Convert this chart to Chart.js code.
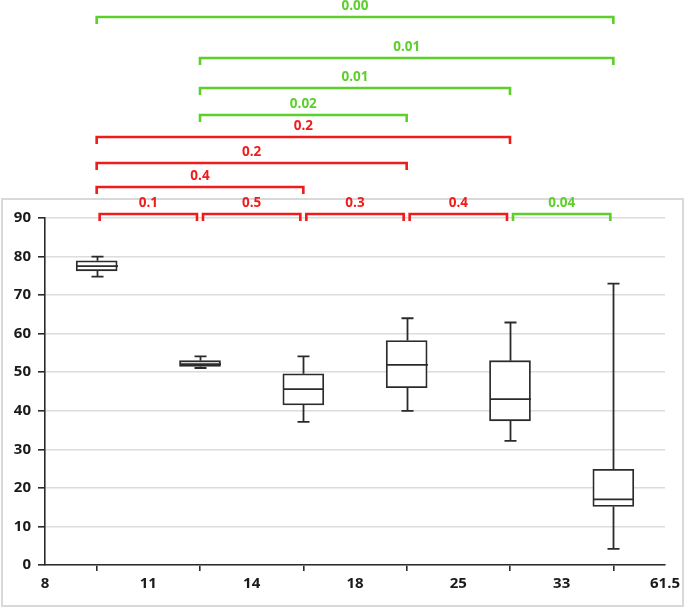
<!DOCTYPE html>
<html>
<head>
<meta charset="utf-8">
<script src="https://cdn.jsdelivr.net/npm/chart.js@4/dist/chart.umd.min.js"></script>
<style>
  html, body { margin: 0; padding: 0; background: #fff; }
  #wrap { width: 685px; height: 609px; position: relative; }
</style>
</head>
<body>
<div id="wrap"><canvas id="boxChart" width="685" height="609"></canvas></div>
<script>
// 分组边界 (x 轴刻度)
const binEdges = ['8', '11', '14', '18', '25', '33', '61.5'];

// 箱线图数据
const whiskerLow = [74.8, 51.1, 37.1, 40.0, 32.2, 4.2];
const q1Values = [76.3, 51.5, 41.5, 46.0, 37.4, 15.2];
const medians = [77.5, 52.1, 45.6, 51.9, 43.0, 17.0];
const q3Values = [78.9, 53.0, 49.6, 58.2, 53.0, 24.8];
const whiskerHigh = [80.0, 54.1, 54.1, 64.0, 62.9, 73.0];

// 两两比较 (p 值)
const pairFrom = [0, 1, 1, 1, 0, 0, 0, 0, 1, 2, 3, 4];
const pairTo = [5, 5, 4, 3, 4, 3, 2, 1, 2, 3, 4, 5];
const pValues = ['0.00', '0.01', '0.01', '0.02', '0.2', '0.2', '0.4', '0.1', '0.5', '0.3', '0.4', '0.04'];
const pairLevel = [0, 1, 2, 3, 4, 5, 6, 7, 7, 7, 7, 7];

const yTicks = [0, 10, 20, 30, 40, 50, 60, 70, 80, 90];

// 布局
const levelY = [17, 58, 88, 115, 137, 163, 187, 214];
const GREEN = '#5ccf2a';
const RED = '#ef1c1c';
const INK = '#2b2b2b';
const FONT = "'Open Sans', 'Liberation Sans', sans-serif";

const boxData = q1Values.map((q1, i) => ({ x: i + 0.5, y: [q1, q3Values[i]] }));

// 中位线、须线、比较括号
const boxExtras = {
    id: 'boxExtras',
    beforeDraw(chart) {
        const ctx = chart.ctx;
        ctx.save();
        ctx.strokeStyle = '#d9d9d9';
        ctx.lineWidth = 2;
        ctx.strokeRect(2, 199, 681, 407);
        ctx.restore();
    },
    afterDatasetsDraw(chart) {
        const ctx = chart.ctx;
        const xs = chart.scales.x;
        const ys = chart.scales.y;
        const half = 20.5;
        const cap = 6;
        ctx.save();
        ctx.strokeStyle = INK;
        ctx.lineWidth = 1.8;
        for (let i = 0; i < medians.length; i++) {
            const cx = Math.round(xs.getPixelForValue(i + 0.5)) + 0.5;
            const yLo = ys.getPixelForValue(whiskerLow[i]);
            const yHi = ys.getPixelForValue(whiskerHigh[i]);
            const yQ1 = ys.getPixelForValue(q1Values[i]);
            const yQ3 = ys.getPixelForValue(q3Values[i]);
            const yMed = ys.getPixelForValue(medians[i]);
            ctx.beginPath();
            ctx.moveTo(cx, yQ3); ctx.lineTo(cx, yHi);
            ctx.moveTo(cx - cap, yHi); ctx.lineTo(cx + cap, yHi);
            ctx.moveTo(cx, yQ1); ctx.lineTo(cx, yLo);
            ctx.moveTo(cx - cap, yLo); ctx.lineTo(cx + cap, yLo);
            ctx.moveTo(cx - half, yMed); ctx.lineTo(cx + half, yMed);
            ctx.stroke();
        }
        ctx.restore();
    },
    afterDraw(chart) {
        const ctx = chart.ctx;
        const xs = chart.scales.x;
        ctx.save();
        ctx.lineWidth = 2.6;
        ctx.font = 'bold 13.5px ' + FONT;
        ctx.textAlign = 'center';
        ctx.textBaseline = 'alphabetic';
        for (let k = 0; k < pValues.length; k++) {
            const color = parseFloat(pValues[k]) < 0.05 ? GREEN : RED;
            const inset = pairTo[k] - pairFrom[k] === 1 ? 3 : 0;
            const x1 = xs.getPixelForValue(pairFrom[k] + 0.5) + inset;
            const x2 = xs.getPixelForValue(pairTo[k] + 0.5) - inset;
            const y = levelY[pairLevel[k]];
            ctx.strokeStyle = color;
            ctx.beginPath();
            ctx.moveTo(x1, y + 7);
            ctx.lineTo(x1, y);
            ctx.lineTo(x2, y);
            ctx.lineTo(x2, y + 7);
            ctx.stroke();
            ctx.fillStyle = color;
            ctx.fillText(pValues[k], (x1 + x2) / 2, y - 7);
        }
        ctx.restore();
    }
};

new Chart(document.getElementById('boxChart'), {
    type: 'bar',
    data: {
        datasets: [{
            data: boxData,
            backgroundColor: '#ffffff',
            borderColor: INK,
            borderWidth: 1.8,
            borderSkipped: false,
            barThickness: 41
        }]
    },
    options: {
        responsive: false,
        animation: false,
        layout: { padding: { top: 218, right: 20, left: 0, bottom: 0 } },
        plugins: {
            legend: { display: false },
            tooltip: { enabled: false }
        },
        scales: {
            x: {
                type: 'linear',
                min: 0,
                max: binEdges.length - 1,
                offset: false,
                afterBuildTicks(scale) {
                    scale.ticks = binEdges.map((_, i) => ({ value: i }));
                },
                afterFit(scale) { scale.height = 44; },
                ticks: {
                    callback: (v) => binEdges[v],
                    color: '#1a1a1a',
                    font: { family: FONT, size: 15, weight: 'bold' },
                    padding: 4,
                    maxRotation: 0,
                    autoSkip: false
                },
                grid: {
                    drawOnChartArea: false,
                    drawTicks: true,
                    tickLength: 6,
                    tickColor: INK,
                    lineWidth: 1.6
                },
                border: { display: true, color: INK, width: 1.6 }
            },
            y: {
                min: 0,
                max: 90,
                afterBuildTicks(scale) {
                    scale.ticks = yTicks.map(v => ({ value: v }));
                },
                afterFit(scale) { scale.width = 45; },
                ticks: {
                    color: '#1a1a1a',
                    font: { family: FONT, size: 15, weight: 'bold' },
                    padding: 7
                },
                grid: {
                    color: '#dcdcdc',
                    lineWidth: 1.6,
                    tickColor: INK,
                    tickLength: 7
                },
                border: { display: true, color: INK, width: 1.6 }
            }
        }
    },
    plugins: [boxExtras]
});
</script>
</body>
</html>
